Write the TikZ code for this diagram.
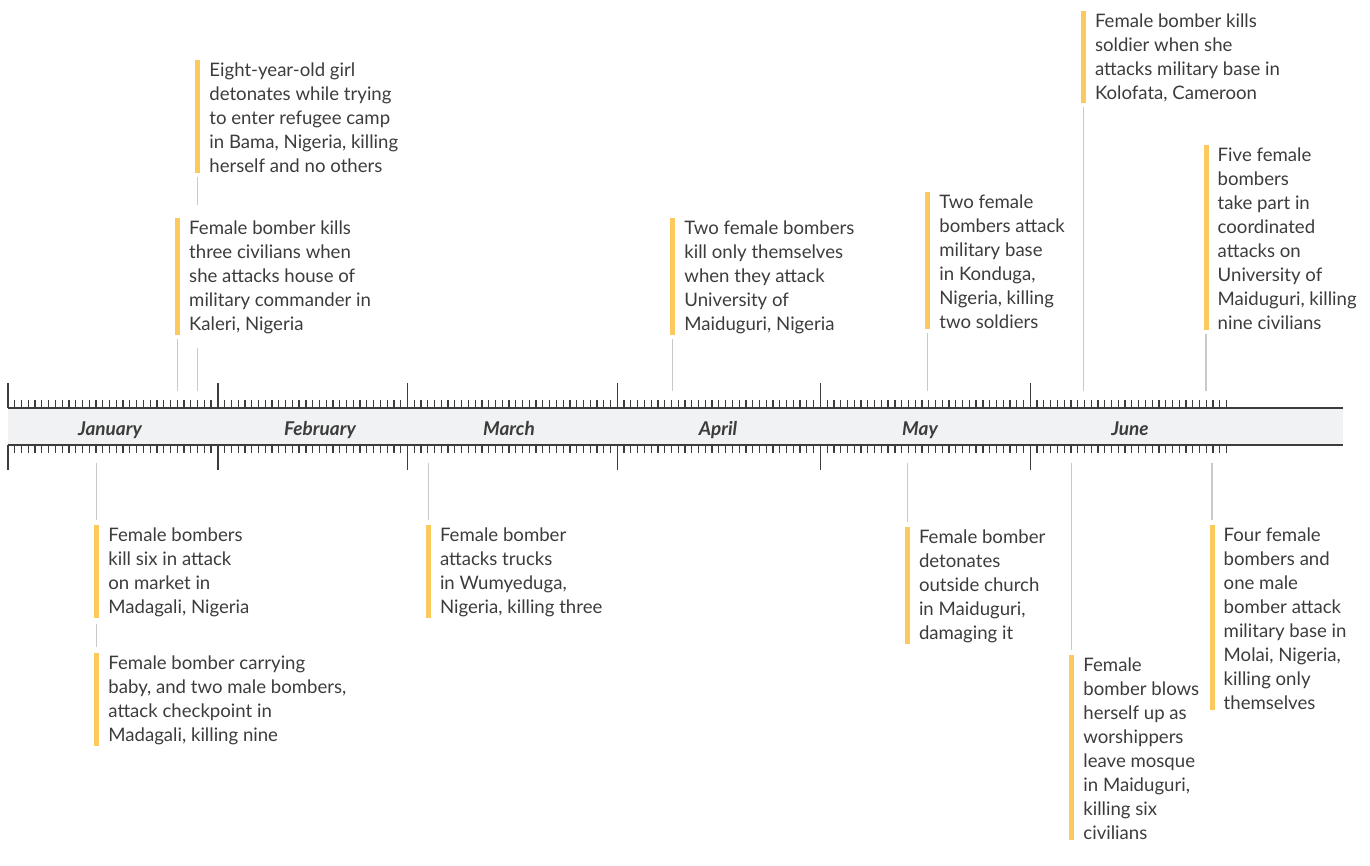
\documentclass[tikz,border=0pt]{standalone}
\usepackage{fontspec}
\setmainfont{Lato}
\usetikzlibrary{positioning,calc}
\definecolor{ink}{HTML}{3C3C3C}
\definecolor{gold}{HTML}{FBC95E}
\definecolor{band}{HTML}{F1F2F3}
\definecolor{leadgray}{HTML}{C9C9C9}

\begin{document}
\begin{tikzpicture}[
  x=1pt, y=-1pt,
  event/.style={anchor=north west, inner sep=0pt, align=left, text=ink,
                font=\fontsize{18.6}{24}\selectfont},
  monthlbl/.style={anchor=base, text=ink,
                   font=\fontsize{19}{22}\selectfont\bfseries\itshape},
  hilite/.style={draw=gold, line width=5pt, shorten <=-3pt},
  leader/.style={draw=leadgray, line width=1.4pt},
  daytick/.style={draw=ink, line width=1.25pt},
  monthtick/.style={draw=ink, line width=1.4pt},
  rail/.style={draw=ink, line width=1.6pt}
]
\useasboundingbox (0,0) rectangle (1370,865);

% timeline band
\fill[band] (8,408) rectangle (1343,445);
\draw[rail] (8,408) -- (1343,408);
\draw[rail] (8,445) -- (1343,445);
\foreach \d in {0,...,180}{
  \draw[daytick] (8+\d*6.77,400) -- (8+\d*6.77,408);
  \draw[daytick] (8+\d*6.77,445) -- (8+\d*6.77,453);
}
\foreach \d in {0,31,59,90,120,151}{
  \draw[monthtick] (8+\d*6.77,383) -- (8+\d*6.77,408);
  \draw[monthtick] (8+\d*6.77,445) -- (8+\d*6.77,470);
}

% months
\node[monthlbl] (jan) at (110,435.5) {January};
\node[monthlbl] (feb) at (320,435.5) {February};
\node[monthlbl] (mar) at (509,435.5) {March};
\node[monthlbl] (apr) at (718,435.5) {April};
\node[monthlbl] (may) at (920,435.5) {May};
\node[monthlbl] (jun) at (1130,435.5) {June};

% stem feet on the tick rows
\coordinate (s1) at (197.7,391);
\coordinate (s2) at (177.5,391);
\coordinate (s3) at (672.7,391);
\coordinate (s4) at (927.7,391);
\coordinate (s5) at (1083.3,391);
\coordinate (s6) at (1206,391);
\coordinate (s7) at (96.7,463);
\coordinate (s8) at (428.3,463);
\coordinate (s9) at (907.3,463);
\coordinate (s10) at (1071.7,463);
\coordinate (s11) at (1212,463);

% events above
\node[event] (e1) at (209.2,63) {Eight-year-old girl\\detonates while trying\\to enter refugee camp\\in Bama, Nigeria, killing\\herself and no others};
\node[event] (e2) at (189,221) {Female bomber kills\\three civilians when\\she attacks house of\\military commander in\\Kaleri, Nigeria};
\node[event] (e3) at (684.2,221) {Two female bombers\\kill only themselves\\when they attack\\University of\\Maiduguri, Nigeria};
\node[event] (e4) at (939.2,195) {Two female\\bombers attack\\military base\\in Konduga,\\Nigeria, killing\\two soldiers};
\node[event] (e5) at (1094.8,14) {Female bomber kills\\soldier when she\\attacks military base in\\Kolofata, Cameroon};
\node[event] (e6) at (1217.5,148) {Five female\\bombers\\take part in\\coordinated\\attacks on\\University of\\Maiduguri, killing\\nine civilians};

% events below
\node[event] (b1) at (108.2,528) {Female bombers\\kill six in attack\\on market in\\Madagali, Nigeria};
\node[event] (b2) at (108.2,656) {Female bomber carrying\\baby, and two male bombers,\\attack checkpoint in\\Madagali, killing nine};
\node[event] (b3) at (439.8,528) {Female bomber\\attacks trucks\\in Wumyeduga,\\Nigeria, killing three};
\node[event] (b4) at (918.8,530) {Female bomber\\detonates\\outside church\\in Maiduguri,\\damaging it};
\node[event] (b5) at (1083.2,658) {Female\\bomber blows\\herself up as\\worshippers\\leave mosque\\in Maiduguri,\\killing six\\civilians};
\node[event] (b6) at (1223.5,528) {Four female\\bombers and\\one male\\bomber attack\\military base in\\Molai, Nigeria,\\killing only\\themselves};

% yellow bars
\foreach \e/\s in {e1/s1, e2/s2, e3/s3, e4/s4, e5/s5, e6/s6,
                   b1/s7, b2/s7, b3/s8, b4/s9, b5/s10, b6/s11}
  \draw[hilite] (\s |- \e.north) -- (\s |- \e.south);

% leaders
\draw[leader, shorten <=4pt, shorten >=16pt] (s1 |- e1.south) -- (s1 |- e2.north);
\draw[leader, shorten >=13pt] (s1) -- (s1 |- e2.south);
\foreach \e/\s in {e2/s2, e3/s3, e4/s4, e5/s5, e6/s6}
  \draw[leader, shorten >=4pt] (\s) -- (\s |- \e.south);
\foreach \e/\s in {b1/s7, b3/s8, b4/s9, b5/s10, b6/s11}
  \draw[leader, shorten >=8pt] (\s) -- (\s |- \e.north);
\draw[leader, shorten <=6pt, shorten >=9pt] (s7 |- b1.south) -- (s7 |- b2.north);
\end{tikzpicture}
\end{document}
